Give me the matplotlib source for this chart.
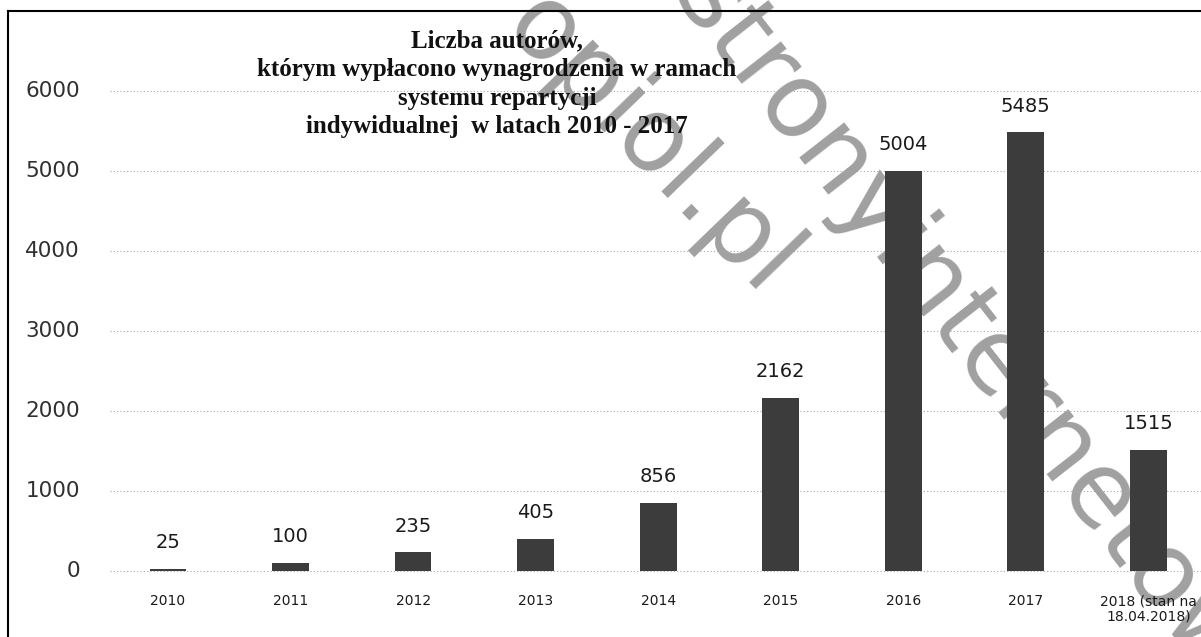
import numpy as np
import matplotlib
matplotlib.use('Agg')
from matplotlib import pyplot as plt

# dane
years = ['2010', '2011', '2012', '2013', '2014', '2015', '2016', '2017',
         '2018 (stan na\n18.04.2018)']
authors = [25, 100, 235, 405, 856, 2162, 5004, 5485, 1515]
yticks = [0, 1000, 2000, 3000, 4000, 5000, 6000]
title = ('Liczba autorów,\nktórym wypłacono wynagrodzenia w ramach\n'
         'systemu repartycji\nindywidualnej  w latach 2010 - 2017')

W, H = 1201, 637
fig = plt.figure(figsize=(W / 100, H / 100), dpi=100)
ax = fig.add_axes([8 / W, 0, 1 - 8 / W, 1 - 11 / H])
ax.set_facecolor('none')

x = np.arange(len(years))
ax.bar(x, authors, width=0.3, color='#3c3c3c', zorder=2)

# przerywane linie siatki
for t in yticks:
    ax.plot([-0.47, 8.5], [t, t], ls=(0, (1, 2)), color='#a8a8a8', lw=0.8, zorder=1)
    ax.text(-0.72, t, str(t), ha='right', va='center', fontsize=15.5,
            color='#303030', family='DejaVu Sans')

for xi, v in zip(x, authors):
    ax.annotate(str(v), (xi, v), xytext=(0, 12), textcoords='offset points',
                ha='center', va='bottom', fontsize=14, color='#1a1a1a')

for xi, lab in zip(x, years):
    ax.text(xi, -290, lab, ha='center', va='top', fontsize=10,
            color='#1a1a1a', multialignment='center', linespacing=1.1)

ax.set_xlim(-1.306, 8.43)
ax.set_ylim(-825, 7000)
ax.set_xticks([]), ax.set_yticks([])
ax.spines['right'].set_visible(False)
ax.spines['bottom'].set_visible(False)
ax.spines['left'].set_linewidth(1.5)
ax.spines['top'].set_linewidth(1.5)

fig.text(497 / W, 1 - 29 / H, title, ha='center', va='top', fontsize=18,
         fontweight='bold', family='Liberation Serif', linespacing=1.32,
         color='#111111')

# znak wodny
wm = dict(fontsize=74, color='#a0a0a0', rotation_mode='anchor',
          va='baseline', zorder=0.5, transform=None)
ax.text(760, H - 300, 'opiol.pl', rotation=-46, ha='right', **wm)
ax.text(670, H + 1, 'stronyinternetow', rotation=-52, ha='left', **wm)

fig.savefig('out.png', dpi=100)
